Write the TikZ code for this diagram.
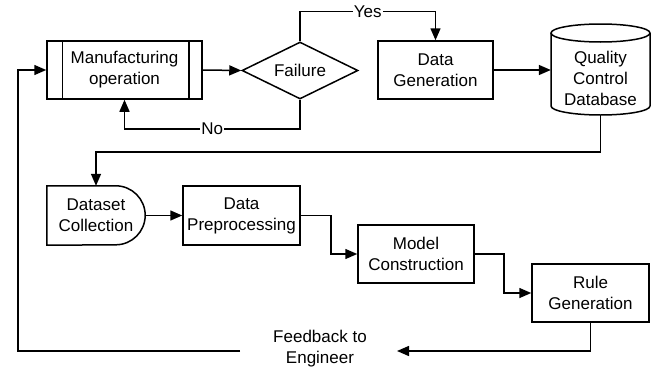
\documentclass[tikz,border=0pt]{standalone}
\usepackage{fontspec}
\setmainfont{Liberation Sans}
\usetikzlibrary{arrows.meta,shapes.geometric}
\tikzset{
  lw/.style={line width=1.5pt},
  box/.style={draw, lw, rectangle},
  arr/.style={lw, -{Triangle[length=12pt,width=10pt]}},
  lbl/.style={fill=white, inner sep=1pt}
}
\begin{document}
\begin{tikzpicture}[x=1pt,y=1pt,
  every node/.style={font=\fontsize{17}{21}\selectfont, align=center, inner sep=0pt}]
\useasboundingbox (0,0) rectangle (658,-367);

% nodes
\node[box, minimum width=155pt, minimum height=58pt] (mo) at (124.5,-70) {Manufacturing\\operation};
\draw[lw] ([xshift=16pt]mo.north west) -- ([xshift=16pt]mo.south west);
\draw[lw] ([xshift=-14pt]mo.north east) -- ([xshift=-14pt]mo.south east);

\node[diamond, draw, lw, aspect=2.03, minimum width=116pt, minimum height=57pt] (fail) at (300,-70.5) {Failure};

\node[box, minimum width=115pt, minimum height=58pt] (dg) at (435.5,-70) {Data\\Generation};

\node[minimum width=99pt, minimum height=74pt] (db) at (600.5,-78) {Quality\\Control\\Database};
\draw[lw] (551,-33) -- (551,-106) arc[start angle=180, end angle=360, x radius=49.5, y radius=9] -- (650,-33);
\draw[lw] (600.5,-33) ellipse[x radius=49.5, y radius=9];

\node[minimum width=98pt, minimum height=59pt] (dc) at (96,-215.5) {Dataset\\Collection};
\draw[lw] (dc.south west) -- (dc.north west) -- ([xshift=-29.5pt]dc.north east)
  arc[start angle=90, end angle=-90, radius=29.5] -- cycle;

\node[box, minimum width=117pt, minimum height=59pt] (dp) at (241.5,-215.5) {Data\\Preprocessing};
\node[box, minimum width=116pt, minimum height=58pt] (mc) at (416,-254) {Model\\Construction};
\node[box, minimum width=117pt, minimum height=58pt] (rg) at (590.5,-293) {Rule\\Generation};

\node (fb) at (320,-349) {Feedback to\\Engineer};
\coordinate (fbR) at (397,-351);
\coordinate (fbL) at (240,-351);

% connectors
\draw[arr] (mo.east) -- (fail.west);
\draw[arr] (fail.north) -- ++(0,30) -| node[pos=0.25, lbl]{Yes} (dg.north);
\draw[arr] (fail.south) -- ++(0,-29) -| node[pos=0.25, lbl]{No} (mo.south);
\draw[arr] (dg.east) -- (dg.east -| db.west);
\draw[arr] (db.south) -- ++(0,-37) -| (dc.north);
\draw[arr] (dc.east) -- (dp.west);
\draw[arr] (dp.east) -- ++(30,0) |- (mc.west);
\draw[arr] (mc.east) -- ++(29,0) |- (rg.west);
\draw[arr] (rg.south) |- (fbR);
\draw[arr] (fbL) -- ++(-222,0) |- (mo.west);
\end{tikzpicture}
\end{document}
